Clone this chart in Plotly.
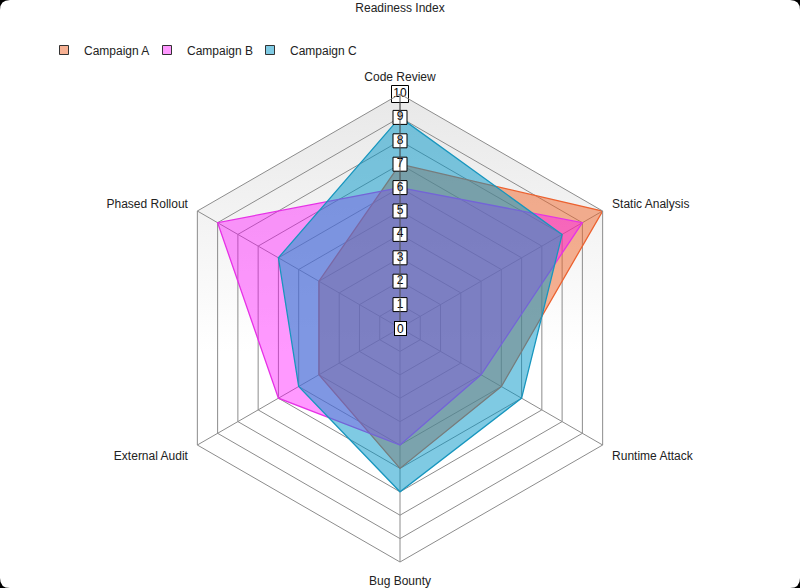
import math
import plotly.graph_objects as go

categories = ["Code Review", "Static Analysis", "Runtime Attack",
              "Bug Bounty", "External Audit", "Phased Rollout"]
campaign_a = [7, 10, 5, 6, 4, 4]
campaign_b = [6, 9, 4, 5, 6, 9]
campaign_c = [9, 8, 6, 7, 5, 6]
tick_vals = list(range(0, 11))
tick_text = [str(v) for v in tick_vals]

series = [
    ("Campaign A", campaign_a, "rgb(236,98,48)", "rgba(240,100,40,0.5)"),
    ("Campaign B", campaign_b, "rgb(230,50,230)", "rgba(255,0,255,0.4)"),
    ("Campaign C", campaign_c, "rgb(24,150,190)", "rgba(0,150,200,0.5)"),
]

dom_x = [166 / 800, 634 / 800]
dom_y = [1 - 562 / 588, 1 - 94 / 588]

fig = go.Figure()

# soft grey gradient behind the web (cartesian layer sits under the polar one)
ang = [math.radians(90 - 60 * i) for i in range(7)]
fig.add_trace(go.Scatter(
    x=[math.cos(a) for a in ang], y=[math.sin(a) for a in ang],
    mode="none", fill="toself",
    fillgradient=dict(type="vertical",
                      colorscale=[[0, "#ffffff"], [0.45, "#ffffff"], [1, "#e8e8e8"]]),
    showlegend=False, hoverinfo="skip",
))

for name, vals, line_col, fill_col in series:
    fig.add_trace(go.Scatterpolar(
        r=vals + vals[:1],
        theta=categories + categories[:1],
        name=name,
        legendgroup=name,
        showlegend=False,
        mode="lines",
        fill="toself",
        fillcolor=fill_col,
        line=dict(color=line_col, width=1.3),
        hoverinfo="name+r+theta",
    ))
    # square legend key
    fig.add_trace(go.Scatterpolar(
        r=[None], theta=[None], name=name, legendgroup=name,
        mode="markers",
        marker=dict(symbol="square", size=9, color=fill_col,
                    line=dict(color="#333", width=1)),
    ))

# blank spacer entry so the last legend label is not clipped
fig.add_trace(go.Scatterpolar(
    r=[None], theta=[None], name=" ", mode="markers",
    marker=dict(size=1, color="rgba(0,0,0,0)"), hoverinfo="skip",
))

# boxed radial tick labels along the first spoke (0 sits at the centre, added below)
fig.add_trace(go.Scatterpolar(
    r=tick_vals[1:],
    theta=[categories[0]] * (len(tick_vals) - 1),
    mode="markers+text",
    text=tick_text[1:],
    textposition="middle center",
    textfont=dict(size=12, color="black", family="Liberation Sans, Arial"),
    marker=dict(symbol="square", size=[14] * 9 + [17], color="white", opacity=1,
                line=dict(color="black", width=1)),
    showlegend=False,
    hoverinfo="skip",
))
fig.add_annotation(
    x=(dom_x[0] + dom_x[1]) / 2, y=(dom_y[0] + dom_y[1]) / 2,
    xref="paper", yref="paper", text=tick_text[0], showarrow=False,
    font=dict(size=12, color="black"), bgcolor="white",
    bordercolor="black", borderwidth=1, borderpad=0, width=11, height=13,
)

# rounded frame corners
cx = 10 / 800
cy = 10 / 588
for path in [f"M 0,1 L 0,{1 - cy} Q 0,1 {cx},1 Z",
             f"M 1,1 L {1 - cx},1 Q 1,1 1,{1 - cy} Z",
             f"M 0,0 L 0,{cy} Q 0,0 {cx},0 Z",
             f"M 1,0 L {1 - cx},0 Q 1,0 1,{cy} Z"]:
    fig.add_shape(type="path", xref="paper", yref="paper", fillcolor="black",
                  line_width=0, path=path, layer="above")

fig.update_layout(
    width=800,
    height=588,
    margin=dict(l=0, r=0, t=0, b=0),
    paper_bgcolor="white",
    plot_bgcolor="rgba(0,0,0,0)",
    font=dict(family="Liberation Sans, Arial", size=12, color="#222"),
    title=dict(text="Readiness Index", x=0.5, xanchor="center", y=1 - 8 / 588,
               yanchor="middle", font=dict(size=12, color="#222")),
    legend=dict(orientation="h", x=0.055, y=1 - 50 / 588, xanchor="left",
                yanchor="middle", font=dict(size=12, color="#222"),
                entrywidth=58, entrywidthmode="pixels"),
    xaxis=dict(domain=dom_x, range=[-1, 1], visible=False, fixedrange=True),
    yaxis=dict(domain=dom_y, range=[-1, 1], visible=False, fixedrange=True),
    polar=dict(
        domain=dict(x=dom_x, y=dom_y),
        gridshape="linear",
        bgcolor="rgba(0,0,0,0)",
        radialaxis=dict(range=[0, 10], dtick=1, showticklabels=False, ticks="",
                        angle=90, showline=True, linecolor="#555",
                        gridcolor="#8c8c8c", gridwidth=1),
        angularaxis=dict(direction="clockwise", rotation=90, ticks="outside",
                         ticklen=8, tickcolor="rgba(0,0,0,0)",
                         linecolor="#8c8c8c", gridcolor="#8c8c8c",
                         tickfont=dict(size=12, color="#222")),
    ),
)

fig.write_html("out.html", config={"displayModeBar": False},
               post_script="document.body.style.margin='0';")
